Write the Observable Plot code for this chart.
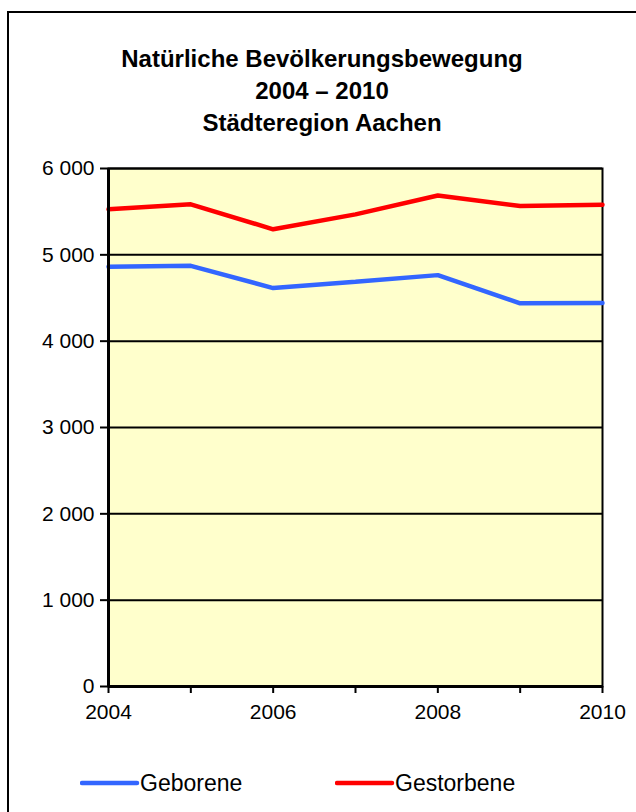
<!DOCTYPE html>
<html>
<head>
<meta charset="utf-8">
<script src="https://cdn.jsdelivr.net/npm/d3@7"></script>
<script src="https://cdn.jsdelivr.net/npm/@observablehq/plot@0.6"></script>
<style>
  html, body { margin: 0; padding: 0; background: #fff; width: 636px; height: 812px; overflow: hidden; }
  body { font-family: "Liberation Sans", Arial, sans-serif; position: relative; }
  #frame { position: absolute; left: 7px; top: 11px; width: 660px; height: 840px; border: 2px solid #000; box-sizing: border-box; }
  #title { position: absolute; left: 0; top: 43px; width: 644px; text-align: center; font-weight: bold; font-size: 24px; line-height: 32px; color: #000; }
  #chart { position: absolute; left: 0; top: 140px; }
  #legend { position: absolute; top: 766px; left: 0; width: 636px; height: 34px; font-size: 23px; color: #000; }
  .item { position: absolute; display: flex; align-items: center; }
  .item svg { display: block; }
</style>
</head>
<body>
<div id="frame"></div>
<div id="title">Natürliche Bevölkerungsbewegung<br>2004 – 2010<br>Städteregion Aachen</div>
<div id="chart"></div>
<div id="legend"></div>
<script>
const years = [2004, 2005, 2006, 2007, 2008, 2009, 2010];
const geborene = [4862, 4873, 4615, 4688, 4765, 4438, 4442];
const gestorbene = [5527, 5585, 5296, 5469, 5688, 5565, 5581];
const seriesNames = ["Geborene", "Gestorbene"];
const seriesColors = ["#3366FF", "#FF0000"];
const yTicks = [0, 1000, 2000, 3000, 4000, 5000, 6000];
const xLabelYears = [2004, 2006, 2008, 2010];

const data = [];
years.forEach((yr, i) => {
  data.push({year: yr, value: geborene[i], series: seriesNames[0]});
  data.push({year: yr, value: gestorbene[i], series: seriesNames[1]});
});

const fmt = d3.formatLocale({decimal: ",", thousands: " ", grouping: [3], currency: ["", ""]}).format(",");

const chart = Plot.plot({
  width: 636,
  height: 600,
  marginLeft: 108,
  marginRight: 34,
  marginTop: 28,
  marginBottom: 54,
  style: {fontSize: "21px", fontFamily: "'Liberation Sans', Arial, sans-serif", background: "transparent", color: "#000"},
  x: {domain: [2004, 2010], label: null},
  y: {domain: [0, 6000], label: null},
  color: {domain: seriesNames, range: seriesColors},
  marks: [
    Plot.frame({fill: "#FFFFCC", stroke: "#000", strokeWidth: 2}),
    Plot.gridY(yTicks, {stroke: "#000", strokeOpacity: 1, strokeWidth: 2}),
    Plot.line(data, {x: "year", y: "value", z: "series", stroke: "series", strokeWidth: 4.5, strokeLinejoin: "miter"}),
    Plot.ruleY([0], {stroke: "#000", strokeWidth: 3}),
    Plot.ruleX([2004], {stroke: "#000", strokeWidth: 3}),
    Plot.axisY(yTicks, {tickSize: 8, tickPadding: 6, strokeWidth: 2, tickFormat: fmt, label: null}),
    Plot.axisX(years, {tickSize: 7, tickPadding: 11, strokeWidth: 2, tickFormat: d => xLabelYears.includes(d) ? String(d) : "", label: null})
  ]
});
document.getElementById("chart").appendChild(chart);

const legend = document.getElementById("legend");
const legendPos = [80, 335];
seriesNames.forEach((name, i) => {
  const item = document.createElement("div");
  item.className = "item";
  item.style.left = legendPos[i] + "px";
  item.style.top = "0px";
  item.innerHTML = `<svg width="60" height="34"><line x1="2" y1="17" x2="57" y2="17" stroke="${seriesColors[i]}" stroke-width="4.5" stroke-linecap="round"/></svg><span>${name}</span>`;
  legend.appendChild(item);
});
</script>
</body>
</html>
